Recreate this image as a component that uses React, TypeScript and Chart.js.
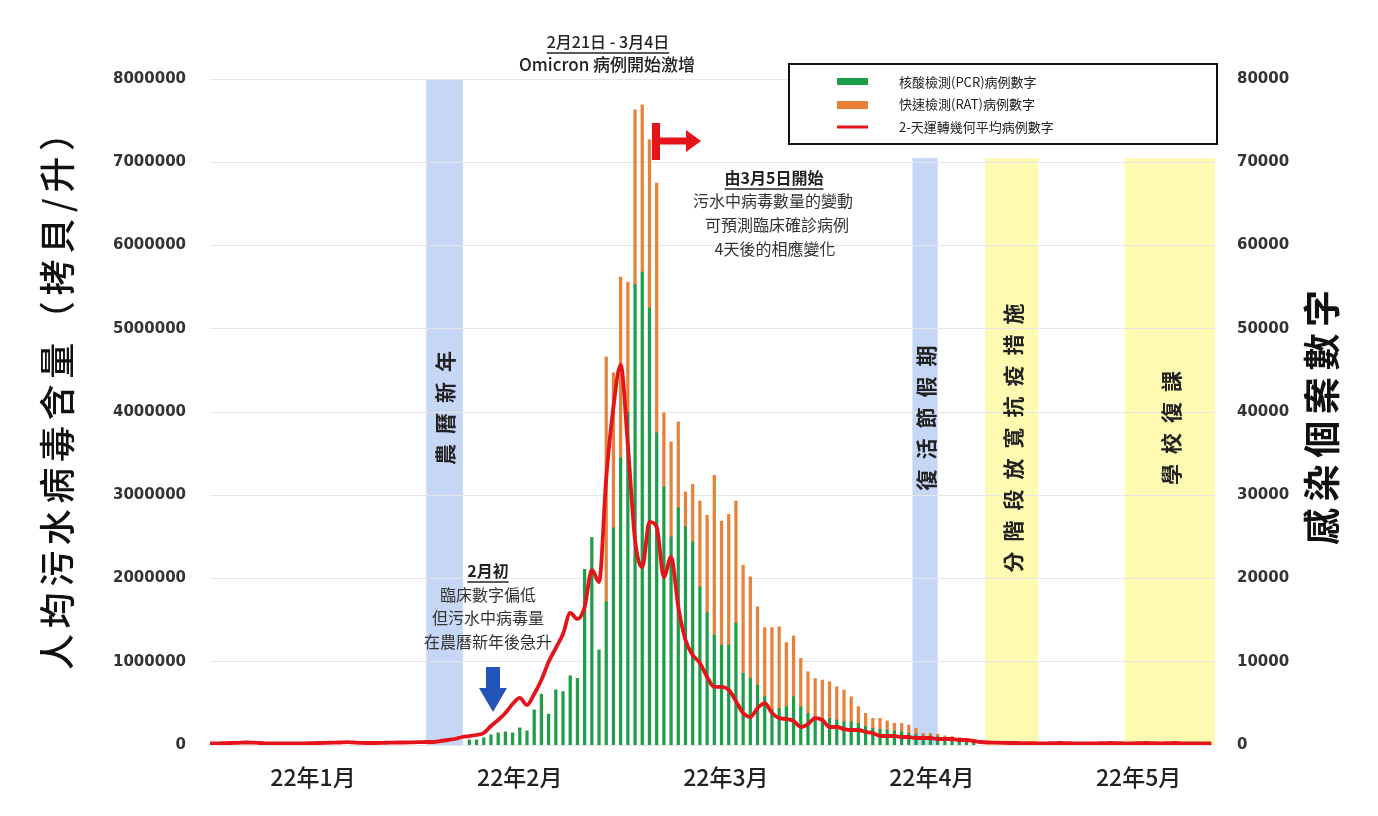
import { useEffect, useRef } from 'react';
import { Chart, registerables } from 'chart.js';

Chart.register(...registerables);

// ---- data ----
const dayMax = 139.5;
const monthTickDays = [14.3, 43.0, 71.6, 100.2, 128.9];
const monthLabels = ['22年1月', '22年2月', '22年3月', '22年4月', '22年5月'];
const leftTicks = [0, 1000000, 2000000, 3000000, 4000000, 5000000, 6000000, 7000000, 8000000];
const rightTicks = [0, 10000, 20000, 30000, 40000, 50000, 60000, 70000, 80000];

const barStartDay = 36;
const pcrCases = [
  600, 600, 840, 1200, 1440, 1560, 1440, 2040, 1680, 4200,
  6100, 3700, 6600, 6400, 8300, 8000, 21100, 24900, 11400, 17200,
  26100, 34500, 40000, 55300, 56800, 52500, 37500, 31000, 25000, 28500,
  26200, 24400, 19000, 15900, 13200, 12000, 12000, 14700, 8600, 8000,
  7200, 5800, 4300, 4400, 4600, 5800, 4600, 3800, 3400, 3200,
  3200, 3000, 2800, 2800, 2600, 2200, 2000, 1900, 1800, 1700,
  1600, 1400, 1300, 1100, 1100, 1000, 800, 700, 600, 500, 400,
];
const ratCases = [
  0, 0, 0, 0, 0, 0, 0, 0, 0, 0,
  0, 0, 0, 0, 0, 0, 0, 0, 0, 29400,
  18600, 21700, 15600, 21000, 20100, 20200, 30000, 8900, 11400, 10300,
  4200, 6900, 10300, 11700, 19200, 14900, 15700, 14600, 13000, 12200,
  9400, 8300, 9800, 9800, 7700, 7300, 5800, 5000, 4600, 4600,
  4400, 4000, 3800, 3000, 2000, 1600, 1200, 1300, 1100, 900,
  1000, 1000, 700, 300, 300, 300, 300, 300, 300, 300, 300,
];
const viralLoad = [
  20000, 20000, 22000, 24000, 26000, 30000, 28000, 24000, 20000, 18000,
  18000, 18000, 20000, 20000, 22000, 24000, 26000, 28000, 30000, 34000,
  30000, 26000, 24000, 24000, 26000, 28000, 30000, 30000, 32000, 34000,
  36000, 36000, 48000, 60000, 72000, 96000, 108000, 120000, 144000, 228000,
  300000, 384000, 492000, 565000, 480000, 613000, 781000, 997000, 1165000, 1333000,
  1586000, 1514000, 1658000, 2102000, 1958000, 3207000, 4060000, 4565000, 3604000, 2462000,
  2138000, 2679000, 2619000, 2018000, 2258000, 1658000, 1261000, 1081000, 985000, 817000,
  697000, 697000, 661000, 529000, 384000, 336000, 444000, 504000, 384000, 324000,
  312000, 288000, 216000, 252000, 324000, 300000, 216000, 216000, 192000, 180000,
  180000, 156000, 144000, 108000, 108000, 108000, 96000, 96000, 84000, 84000,
  84000, 72000, 72000, 72000, 60000, 60000, 48000, 36000, 30000, 28000,
  26000, 24000, 24000, 22000, 22000, 20000, 20000, 22000, 24000, 22000,
  20000, 20000, 18000, 20000, 22000, 24000, 22000, 20000, 20000, 22000,
  24000, 22000, 20000, 22000, 24000, 20000, 18000, 18000, 20000, 20000,
];

// shaded periods: [startDay, endDay, topValue(left axis)]
const bandStarts = [30.0, 97.5, 107.6, 127.0];
const bandEnds = [35.1, 101.0, 115.0, 139.5];
const bandTops = [8000000, 7050000, 7050000, 7050000];
const bandLabels = ['農曆新年', '復活節假期', '分階段放寬抗疫措施', '學校復課'];
const bandKinds = ['blue', 'blue', 'yellow', 'yellow'];

const legendLabels = ['核酸檢測(PCR)病例數字', '快速檢測(RAT)病例數字', '2-天運轉幾何平均病例數字'];

const GREEN = '#1f9e4a';
const ORANGE = '#e8823a';
const RED = '#e5141b';
const BAND_BLUE = 'rgb(198,214,245)';
const BAND_YELLOW = 'rgb(255,250,178)';
const CJK = '"Noto Sans CJK TC", "Noto Sans", sans-serif';

function drawText(ctx: CanvasRenderingContext2D, s: string, x: number, y: number, font: string,
  color = '#222', align: CanvasTextAlign = 'center', underline = false) {
  ctx.font = font;
  ctx.fillStyle = color;
  ctx.textAlign = align;
  ctx.textBaseline = 'middle';
  ctx.fillText(s, x, y);
  if (underline) {
    const w = ctx.measureText(s).width;
    const x0 = align === 'center' ? x - w / 2 : x;
    ctx.strokeStyle = color;
    ctx.lineWidth = 1.3;
    ctx.beginPath();
    ctx.moveTo(x0, y + 11);
    ctx.lineTo(x0 + w, y + 11);
    ctx.stroke();
  }
}

// vertical text reading bottom-to-top, spanning from yBottom upward for length
function drawVerticalFit(ctx: CanvasRenderingContext2D, s: string, cx: number, yBottom: number,
  length: number, font: string, color: string) {
  ctx.save();
  ctx.font = font;
  ctx.fillStyle = color;
  ctx.textAlign = 'left';
  ctx.textBaseline = 'middle';
  const chars = Array.from(s);
  const widths = chars.map((c) => ctx.measureText(c).width);
  const total = widths.reduce((a, b) => a + b, 0);
  const gap = chars.length > 1 ? (length - total) / (chars.length - 1) : 0;
  ctx.translate(cx, yBottom);
  ctx.rotate(-Math.PI / 2);
  let pos = 0;
  chars.forEach((c, i) => {
    ctx.fillText(c, pos, 0);
    pos += widths[i] + gap;
  });
  ctx.restore();
}

const decorPlugin = {
  id: 'decor',
  beforeDraw(chart: any) {
    const { ctx, chartArea, scales } = chart;
    const xs = scales.x;
    const ys = scales.y;
    ctx.save();
    bandStarts.forEach((st, i) => {
      const x1 = xs.getPixelForValue(st);
      const x2 = xs.getPixelForValue(bandEnds[i]);
      const yt = ys.getPixelForValue(bandTops[i]);
      ctx.fillStyle = bandKinds[i] === 'blue' ? BAND_BLUE : BAND_YELLOW;
      ctx.fillRect(x1, yt, x2 - x1, chartArea.bottom - yt);
    });
    ctx.restore();
  },
  afterDatasetsDraw(chart: any) {
    const { ctx, scales } = chart;
    const xs = scales.x;
    ctx.save();
    const labelCenters = [408, 418, 438, 428];
    bandStarts.forEach((st, i) => {
      const cx = (xs.getPixelForValue(st) + xs.getPixelForValue(bandEnds[i])) / 2;
      const n = Array.from(bandLabels[i]).length;
      const len = n * 31 - 10;
      drawVerticalFit(ctx, bandLabels[i], cx + 1, labelCenters[i] + len / 2, len, `bold 21px ${CJK}`, '#222');
    });
    ctx.restore();
  },
  afterDraw(chart: any) {
    const { ctx } = chart;
    ctx.save();
    drawVerticalFit(ctx, '人均污水病毒含量（拷貝/升）', 57, 670, 555, `500 36px ${CJK}`, '#111');
    drawVerticalFit(ctx, '感染個案數字', 1322, 545, 255, `bold 37px ${CJK}`, '#111');

    drawText(ctx, '2月21日 - 3月4日', 608, 42, `500 16px ${CJK}`, '#222', 'center', true);
    drawText(ctx, 'Omicron 病例開始激增', 607, 65, `500 17px ${CJK}`, '#222');

    drawText(ctx, '由3月5日開始', 774, 178, `bold 16px ${CJK}`, '#222', 'center', true);
    drawText(ctx, '污水中病毒數量的變動', 773, 201, `16px ${CJK}`, '#333');
    drawText(ctx, '可預測臨床確診病例', 777, 225, `16px ${CJK}`, '#333');
    drawText(ctx, '4天後的相應變化', 775, 249, `16px ${CJK}`, '#333');

    drawText(ctx, '2月初', 488, 571, `bold 16px ${CJK}`, '#222', 'center', true);
    drawText(ctx, '臨床數字偏低', 488, 595, `16px ${CJK}`, '#333');
    drawText(ctx, '但污水中病毒量', 488, 618, `16px ${CJK}`, '#333');
    drawText(ctx, '在農曆新年後急升', 488, 642, `16px ${CJK}`, '#333');

    ctx.fillStyle = RED;
    ctx.fillRect(652, 123, 8, 37);
    ctx.fillRect(659, 137.5, 30, 7);
    ctx.beginPath();
    ctx.moveTo(686, 130);
    ctx.lineTo(701, 141);
    ctx.lineTo(686, 152);
    ctx.closePath();
    ctx.fill();

    ctx.fillStyle = '#2554b8';
    ctx.fillRect(486, 667, 14, 23);
    ctx.beginPath();
    ctx.moveTo(479, 688);
    ctx.lineTo(507, 688);
    ctx.lineTo(493, 712);
    ctx.closePath();
    ctx.fill();

    ctx.fillStyle = '#fff';
    ctx.fillRect(789, 64, 428, 80);
    ctx.strokeStyle = '#111';
    ctx.lineWidth = 2;
    ctx.strokeRect(789, 64, 428, 80);
    ctx.fillStyle = GREEN;
    ctx.fillRect(837, 78, 31, 7);
    ctx.fillStyle = ORANGE;
    ctx.fillRect(837, 101, 31, 8);
    ctx.strokeStyle = RED;
    ctx.lineWidth = 3;
    ctx.beginPath();
    ctx.moveTo(837, 127);
    ctx.lineTo(868, 127);
    ctx.stroke();
    const ly = [82, 104, 127];
    legendLabels.forEach((t, i) => drawText(ctx, t, 899, ly[i], `13px ${CJK}`, '#222', 'left'));
    ctx.restore();
  },
};

export default function App() {
  const ref = useRef<HTMLCanvasElement | null>(null);
  useEffect(() => {
    document.body.style.margin = '0';
    if (!ref.current) return;
    const chart = new Chart(ref.current, {
      type: 'bar',
      data: {
        datasets: [
          {
            type: 'line',
            label: legendLabels[2],
            data: viralLoad.map((v, d) => ({ x: d, y: v })),
            borderColor: RED,
            borderWidth: 3.8,
            pointRadius: 0,
            cubicInterpolationMode: 'monotone',
            yAxisID: 'y',
            xAxisID: 'x',
            order: 0,
          } as any,
          {
            type: 'bar',
            label: legendLabels[0],
            data: pcrCases.map((v, i) => ({ x: barStartDay + i, y: v })),
            backgroundColor: GREEN,
            barThickness: 2.6,
            yAxisID: 'y1',
            xAxisID: 'x',
            stack: 'cases',
            order: 1,
          },
          {
            type: 'bar',
            label: legendLabels[1],
            data: ratCases.map((v, i) => ({ x: barStartDay + i, y: v })),
            backgroundColor: ORANGE,
            barThickness: 2.6,
            yAxisID: 'y1',
            xAxisID: 'x',
            stack: 'cases',
            order: 2,
          },
        ],
      },
      options: {
        animation: false,
        responsive: true,
        maintainAspectRatio: false,
        layout: { padding: { top: 79, left: 0, right: 0, bottom: 0 } },
        plugins: { legend: { display: false }, tooltip: { enabled: false } },
        scales: {
          x: {
            type: 'linear',
            min: 0,
            max: dayMax,
            offset: false,
            stacked: true,
            grid: { display: false, drawTicks: false },
            border: { display: false },
            afterBuildTicks: (scale: any) => {
              scale.ticks = monthTickDays.map((v) => ({ value: v }));
            },
            afterFit: (scale: any) => { scale.height = 71; },
            ticks: {
              autoSkip: false,
              maxRotation: 0,
              padding: 18,
              color: '#222',
              font: { family: CJK, size: 23, weight: '500' },
              callback: (_v: any, i: number) => monthLabels[i],
            },
          },
          y: {
            position: 'left',
            min: 0,
            max: 8000000,
            grid: { color: '#e6e6e6', drawTicks: false, lineWidth: 1 },
            border: { display: false },
            afterBuildTicks: (scale: any) => {
              scale.ticks = leftTicks.map((v) => ({ value: v }));
            },
            afterFit: (scale: any) => { scale.width = 210; },
            ticks: {
              padding: 24,
              color: '#333',
              font: { family: '"DejaVu Sans", sans-serif', size: 15, weight: 'bold' },
              callback: (v: any) => String(v),
            },
          },
          y1: {
            position: 'right',
            min: 0,
            max: 80000,
            stacked: true,
            grid: { display: false, drawTicks: false },
            border: { display: false },
            afterBuildTicks: (scale: any) => {
              scale.ticks = rightTicks.map((v) => ({ value: v }));
            },
            afterFit: (scale: any) => { scale.width = 163; },
            ticks: {
              padding: 22,
              color: '#333',
              font: { family: '"DejaVu Sans", sans-serif', size: 15, weight: 'bold' },
              callback: (v: any) => String(v),
            },
          },
        },
      } as any,
      plugins: [decorPlugin],
    });
    return () => chart.destroy();
  }, []);
  return (
    <div style={{ position: 'absolute', left: 0, top: 0, width: 1378, height: 816, background: '#fff' }}>
      <canvas ref={ref} />
    </div>
  );
}
